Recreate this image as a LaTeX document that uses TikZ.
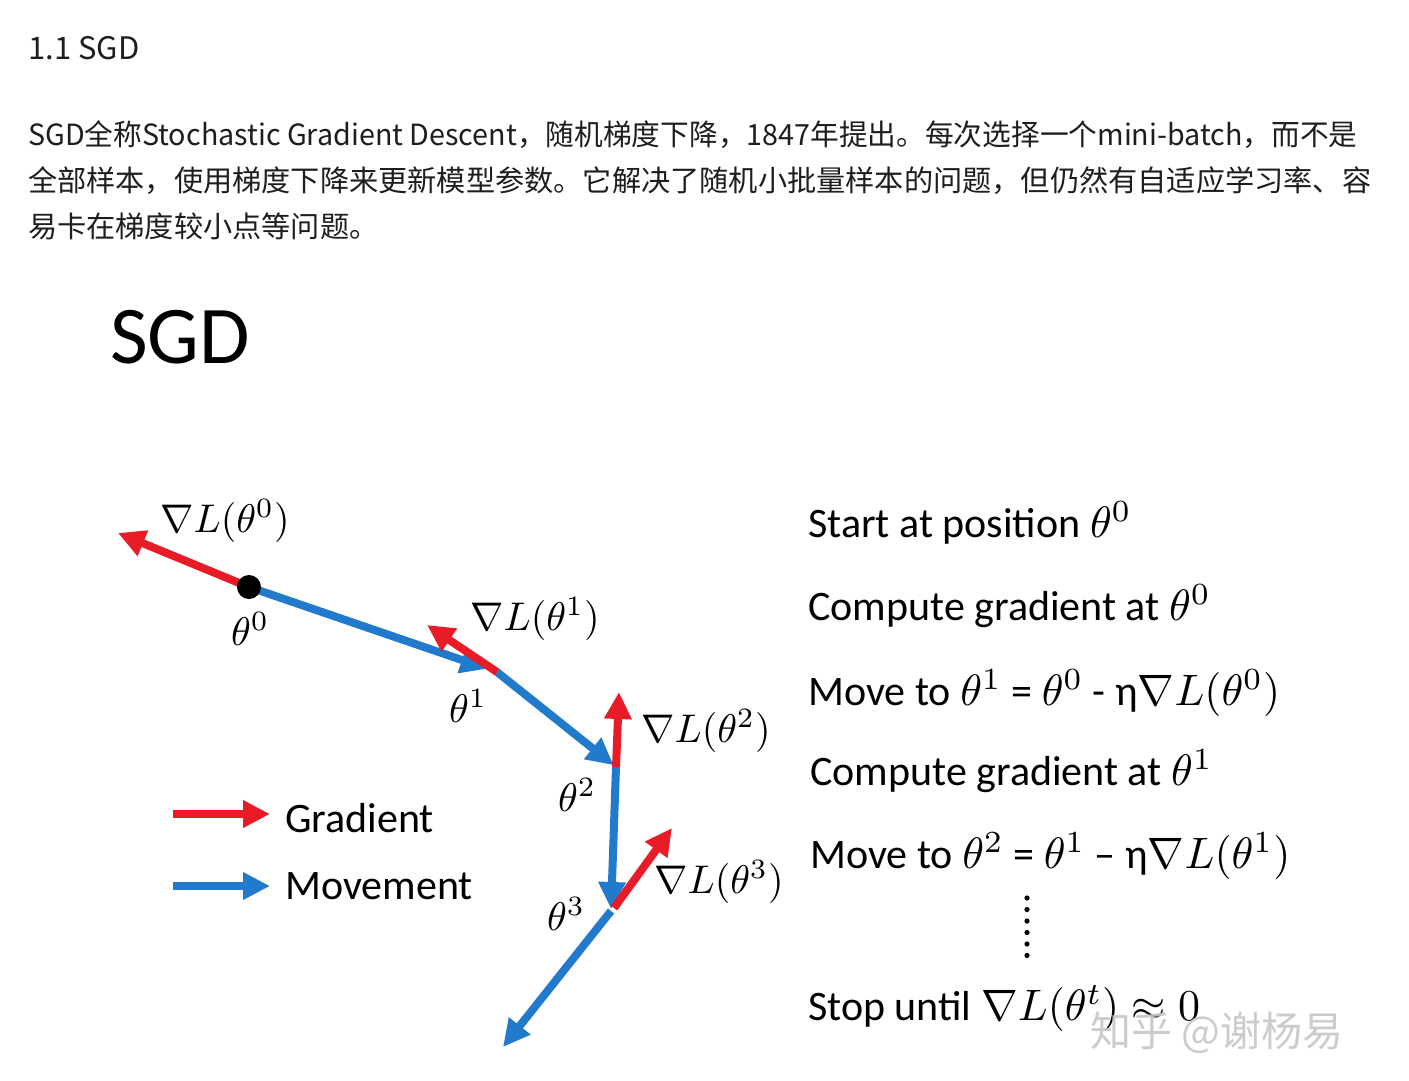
\documentclass[tikz,border=0pt]{standalone}
\usepackage{graphicx}
\usepackage{fontspec}
\setmainfont{Carlito}
\newfontfamily\cjk{Noto Sans CJK SC}
\usetikzlibrary{arrows.meta}
\definecolor{gradred}{RGB}{232,28,38}
\definecolor{moveblue}{RGB}{34,122,204}
\definecolor{bodytext}{RGB}{30,30,30}
\newcommand{\mth}[1]{\scalebox{4}{\fontsize{10}{12}\selectfont$#1$}}
\newcommand{\smth}[1]{\scalebox{4.4}{\fontsize{10}{12}\selectfont$#1$}}
\tikzset{
  gradarrow/.style={draw=gradred, line width=8pt, -{Triangle[length=27pt,width=26pt]}},
  movearrow/.style={draw=moveblue, line width=8pt, -{Triangle[length=27pt,width=26pt]}},
  mlabel/.style={inner sep=0pt, anchor=base west},
  steptext/.style={inner sep=0pt, anchor=base west, font=\fontsize{42}{48}\selectfont},
  para/.style={inner sep=0pt, anchor=base west, text=bodytext, font=\cjk\fontsize{29.2}{36}\selectfont},
}
\begin{document}
\begin{tikzpicture}[x=1pt,y=-1pt]
\useasboundingbox[fill=white] (0,0) rectangle (1409,1080);

% header text
\node[para, font=\cjk\fontsize{31}{36}\selectfont] (head) at (28,59) {1.1 SGD};
\node[para] (p1) at (28,145) {\scalebox{0.983}[1]{SGD全称Stochastic Gradient Descent，随机梯度下降，1847年提出。每次选择一个mini-batch，而不是}};
\node[para] (p2) at (28,191) {全部样本，使用梯度下降来更新模型参数。它解决了随机小批量样本的问题，但仍然有自适应学习率、容};
\node[para] (p3) at (28,237) {易卡在梯度较小点等问题。};

% slide title
\node[inner sep=0pt, anchor=base west, font=\fontsize{82}{90}\selectfont] (title) at (110,363) {SGD};

% points
\coordinate (t0) at (249,587);
\coordinate (t1) at (497,672);
\coordinate (t2) at (616,767);
\coordinate (t3) at (611,911);
\coordinate (tend) at (503,1047);
\coordinate (g0) at (118,533);
\coordinate (g1) at (427,625);
\coordinate (g2) at (619,692);
\coordinate (g3) at (672,828);

% movement
\draw[movearrow, shorten >=10pt] (t0) -- (t1);
\draw[movearrow, shorten >=3pt] (t1) -- (t2);
\draw[movearrow, shorten >=2pt] (t2) -- (t3);
\draw[movearrow] (t3) -- (tend);
% gradients
\draw[gradarrow] (t0) -- (g0);
\draw[gradarrow] (t1) -- (g1);
\draw[gradarrow] (t2) -- (g2);
\draw[gradarrow] ([shift={(3,-3)}]t3) -- (g3);
\fill[black] (t0) circle (12);

% labels
\node[mlabel] (lg0) at (160,532) {\mth{\nabla L(\theta^0)}};
\node[mlabel] (lt0) at (231,645) {\mth{\theta^0}};
\node[mlabel] (lg1) at (470,630) {\mth{\nabla L(\theta^1)}};
\node[mlabel] (lt1) at (449,722) {\mth{\theta^1}};
\node[mlabel] (lg2) at (641,742) {\mth{\nabla L(\theta^2)}};
\node[mlabel] (lt2) at (558,811) {\mth{\theta^2}};
\node[mlabel] (lg3) at (654,893) {\mth{\nabla L(\theta^3)}};
\node[mlabel] (lt3) at (547,930) {\mth{\theta^3}};

% legend
\coordinate (lr1) at (173,814);
\coordinate (lr2) at (270,814);
\coordinate (lb1) at (173,886);
\coordinate (lb2) at (270,886);
\draw[gradarrow] (lr1) -- (lr2);
\draw[movearrow] (lb1) -- (lb2);
\node[steptext] (legG) at (285,832) {Gradient};
\node[steptext] (legM) at (285,899) {Movement};

% steps
\node[steptext] (s1) at (808,537) {Start at position \smth{\theta^0}};
\node[steptext] (s2) at (808,620) {Compute gradient at \smth{\theta^0}};
\node[steptext] (s3) at (808,705) {Move to \smth{\theta^1} = \smth{\theta^0} - η\smth{\nabla L(\theta^0)}};
\node[steptext] (s4) at (810,785) {Compute gradient at \smth{\theta^1}};
\node[steptext] (s5) at (810,868) {Move to \smth{\theta^2} = \smth{\theta^1} – η\smth{\nabla L(\theta^1)}};
\foreach \yy in {898,909.5,921,932.5,944,955.5} \fill (1027,\yy) circle (2.6);
\node[steptext] (s6) at (808,1020) {Stop until \smth{\nabla L(\theta^t)\approx 0}};

% watermark
\node[inner sep=0pt, anchor=base west, text=black!22, opacity=0.9, font=\cjk\fontsize{41}{48}\selectfont] (wm) at (1090,1046) {知乎 @谢杨易};
\end{tikzpicture}
\end{document}
